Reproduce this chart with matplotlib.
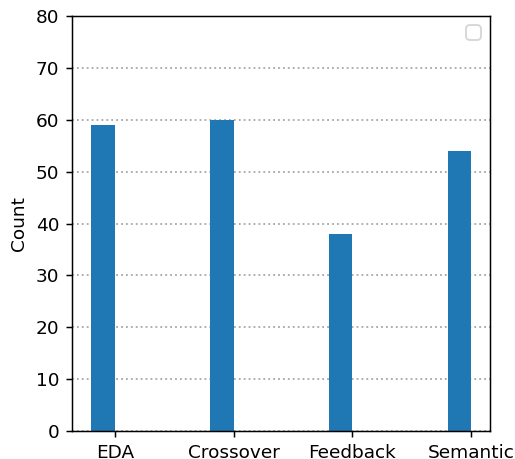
import numpy as np
import matplotlib.pyplot as plt

# counts per augmentation method
methods = ['EDA', 'Crossover', 'Feedback', 'Semantic']
counts = [59, 60, 38, 54]

barWidth = 0.2
dpi = 133.3

fig = plt.figure(figsize=(515 / dpi, 459 / dpi), dpi=dpi)
ax1 = fig.add_axes([0.14, 0.061, 0.812, 0.904])

x = np.arange(len(methods))
ax1.bar(x - barWidth / 2, counts, width=barWidth, color='#1f77b4')

ax1.set_xticks(x)
ax1.set_xticklabels(methods)
ax1.set_ylabel('Count')
ax1.set_ylim(0, 80)
ax1.set_yticks(range(0, 81, 10))

ax1.yaxis.grid(True, linestyle=':', color='#aaaaaa', linewidth=1.0)
ax1.set_axisbelow(True)

ax1.legend(handles=[], loc='upper right')

plt.savefig('out.png', dpi=dpi)
